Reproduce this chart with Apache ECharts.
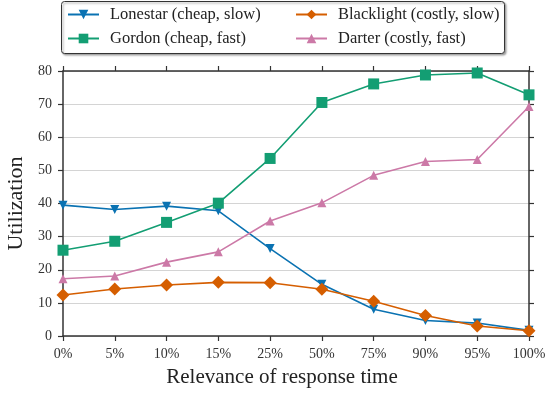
<!DOCTYPE html>
<html>
<head>
<meta charset="utf-8">
<script src="https://cdn.jsdelivr.net/npm/echarts@6/dist/echarts.min.js"></script>
<style>html,body{margin:0;padding:0;background:#fff}#c{width:548px;height:395px}</style>
</head>
<body>
<div id="c"></div>
<script>
var categories = ['0%','5%','10%','15%','25%','50%','75%','90%','95%','100%'];
var lonestar   = [39.5, 38.2, 39.2, 37.8, 26.4, 15.6, 8.1, 4.7, 3.9, 1.7];
var blacklight = [12.4, 14.2, 15.4, 16.2, 16.1, 14.1, 10.5, 6.2, 3.0, 1.6];
var gordon     = [25.9, 28.6, 34.3, 40.1, 53.6, 70.5, 76.1, 78.8, 79.4, 72.8];
var darter     = [17.3, 18.1, 22.3, 25.4, 34.7, 40.2, 48.5, 52.7, 53.3, 69.3];
var yTicks = [0,10,20,30,40,50,60,70,80];

var FONT = 'Liberation Serif';
var TXT = '#333';
var chart = echarts.init(document.getElementById('c'), null, {renderer:'canvas'});

function mkSeries(name, data, color, symbol, size, rot) {
  return {
    name: name, type: 'line', data: data,
    symbol: symbol, symbolSize: size, symbolRotate: rot || 0,
    showAllSymbol: true,
    lineStyle: {color: color, width: 1.6},
    itemStyle: {color: color},
    emphasis: {disabled: true},
    animation: false
  };
}

var legendCommon = {
  orient: 'vertical', top: 6, padding: 0, itemWidth: 31, itemHeight: 12, itemGap: 7,
  textStyle: {fontFamily: FONT, fontSize: 16.5, color: '#222', padding: [0,0,0,6]},
  selectedMode: false
};

chart.setOption({
  animation: false,
  textStyle: {fontFamily: FONT},
  graphic: [{
    type: 'rect', left: 61, top: 1, z: -1,
    shape: {width: 443, height: 52, r: 3},
    style: {fill: '#fff', stroke: '#333', lineWidth: 1,
            shadowColor: 'rgba(0,0,0,0.35)', shadowBlur: 2, shadowOffsetX: 1.5, shadowOffsetY: 1.5}
  }],
  legend: [
    Object.assign({}, legendCommon, {left: 67, data: ['Lonestar (cheap, slow)','Gordon (cheap, fast)']}),
    Object.assign({}, legendCommon, {left: 295, data: ['Blacklight (costly, slow)','Darter (costly, fast)']})
  ],
  grid: {left: 63, right: 19, top: 71, bottom: 59, containLabel: false, outerBoundsMode: 'none'},
  xAxis: [{
    type: 'category', data: categories, boundaryGap: false, position: 'bottom',
    axisLine: {onZero: false, lineStyle: {color: '#333', width: 1.5}},
    axisTick: {alignWithLabel: true, length: 5, lineStyle: {color: '#333', width: 1.2}},
    axisLabel: {fontFamily: FONT, fontSize: 14, color: TXT, margin: 11, interval: 0},
    name: 'Relevance of response time', nameLocation: 'middle', nameGap: 31,
    nameTextStyle: {fontFamily: FONT, fontSize: 21, color: '#222', padding: [0, 28, 0, 0]},
    splitLine: {show: false}
  }, {
    type: 'category', data: categories, boundaryGap: false, position: 'top',
    axisLine: {onZero: false, lineStyle: {color: '#333', width: 1.5}},
    axisTick: {length: 5, lineStyle: {color: '#333', width: 1.2}},
    axisLabel: {show: false}, splitLine: {show: false}
  }],
  yAxis: [{
    type: 'value', min: 0, max: 80, interval: 10, position: 'left',
    axisLine: {show: true, onZero: false, lineStyle: {color: '#333', width: 1.5}},
    axisTick: {show: true, length: 5, lineStyle: {color: '#333', width: 1.2}},
    axisLabel: {fontFamily: FONT, fontSize: 14, color: TXT, margin: 11,
      formatter: function(v){ return yTicks.indexOf(v) >= 0 ? String(v) : ''; }},
    splitLine: {show: true, lineStyle: {color: '#d4d4d4', width: 1.2}},
    name: 'Utilization', nameLocation: 'middle', nameGap: 31,
    nameTextStyle: {fontFamily: FONT, fontSize: 22, color: '#222'}
  }, {
    type: 'value', min: 0, max: 80, interval: 10, position: 'right',
    axisLine: {show: true, onZero: false, lineStyle: {color: '#333', width: 1.5}},
    axisTick: {show: true, length: 5, lineStyle: {color: '#333', width: 1.2}},
    axisLabel: {show: false}, splitLine: {show: false}
  }],
  series: [
    mkSeries('Lonestar (cheap, slow)', lonestar, '#0a72b2', 'triangle', 9, 180),
    mkSeries('Blacklight (costly, slow)', blacklight, '#d55e00', 'diamond', 13),
    mkSeries('Gordon (cheap, fast)', gordon, '#139e73', 'rect', 11),
    mkSeries('Darter (costly, fast)', darter, '#cc79a7', 'triangle', 9)
  ]
});
</script>
</body>
</html>
